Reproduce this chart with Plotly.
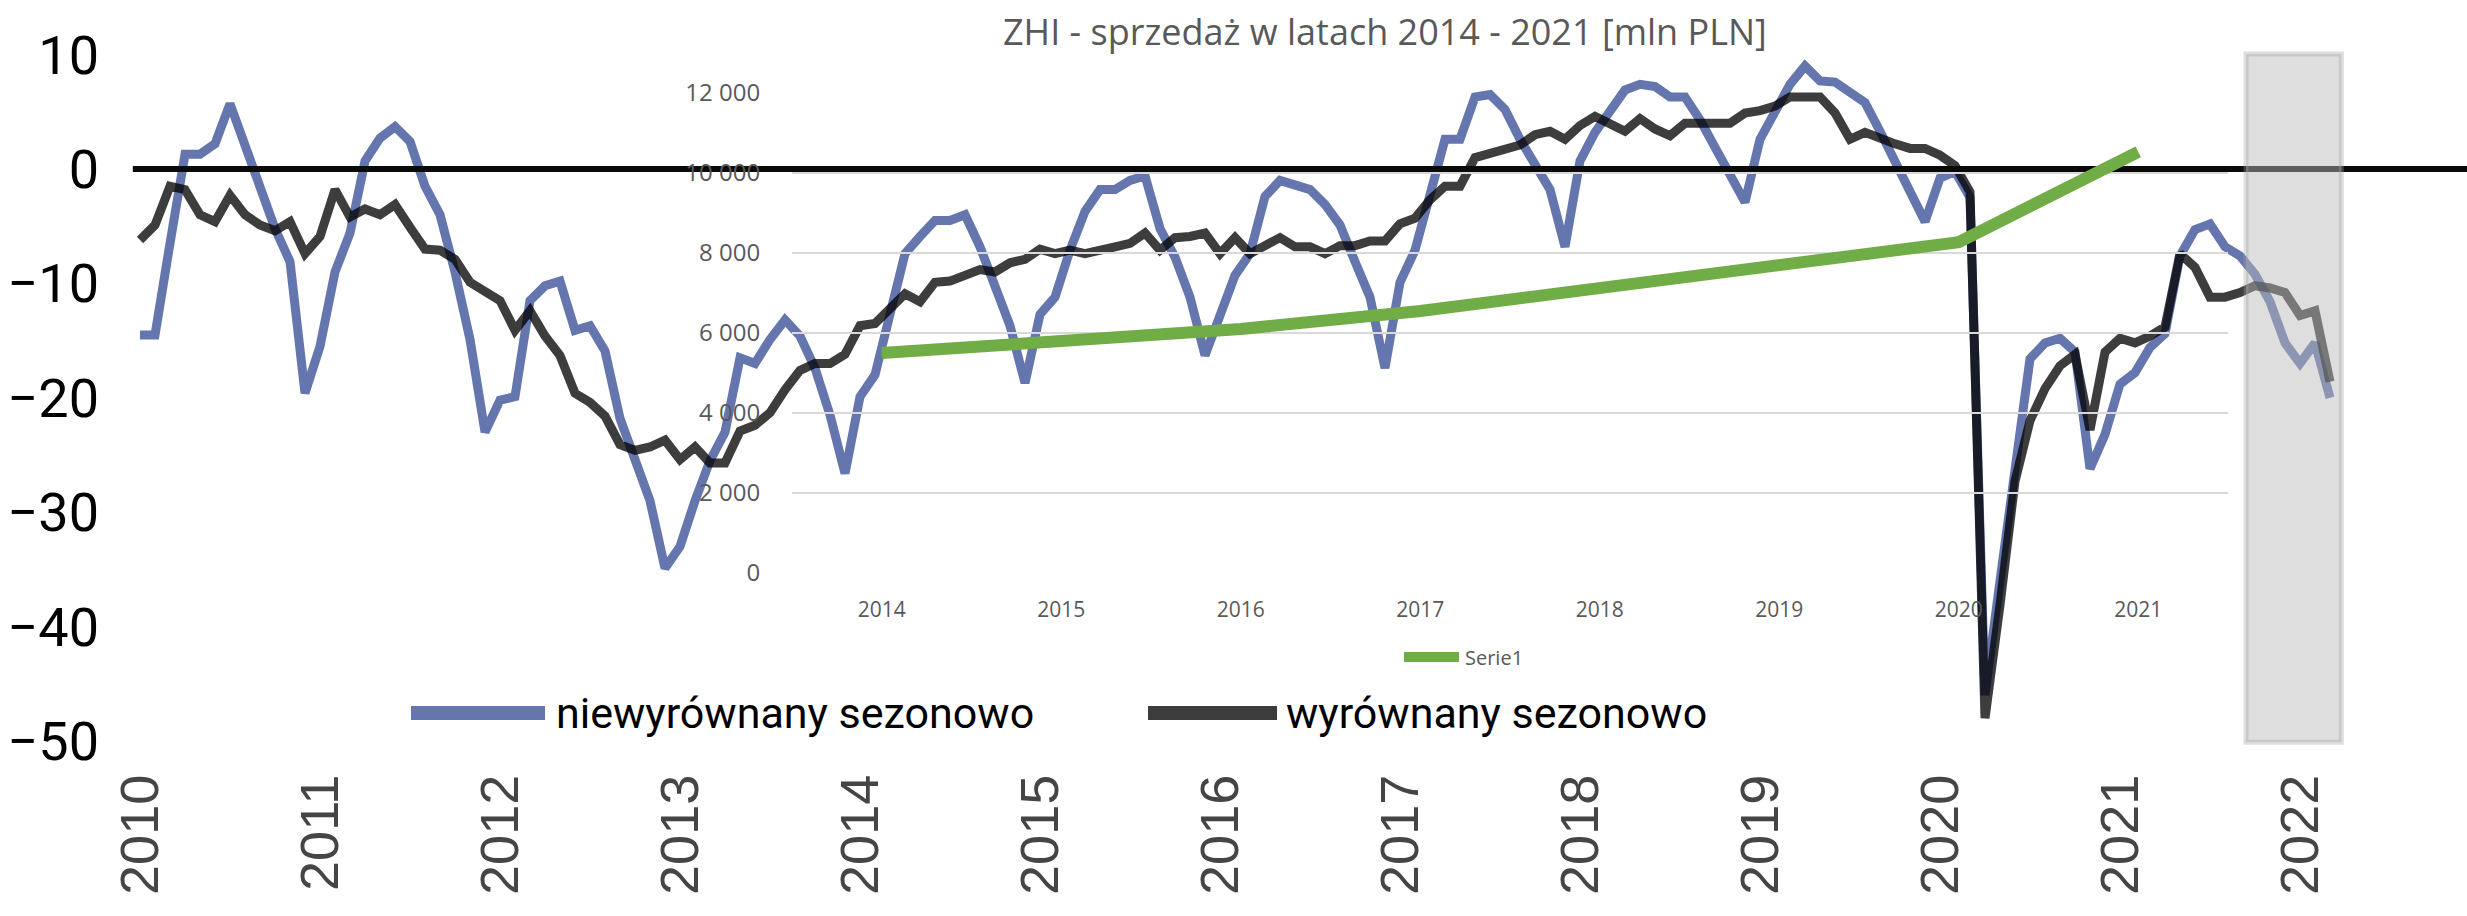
import plotly.graph_objects as go

# ---------------- data ----------------
START_YEAR = 2010
YEARS = list(range(2010, 2023))
YEAR_LABELS = [str(y) for y in YEARS]

BLUE_UNADJ = [
    -14.5, -14.5, -6.5, 1.3, 1.3, 2.2, 5.7, 1.9, -1.8, -5.2, -8.1, -19.6,
    -15.5, -9.0, -5.6, 0.7, 2.7, 3.7, 2.4, -1.5, -4.0, -9.0, -14.9, -23.0,
    -20.2, -19.9, -11.5, -10.2, -9.8, -14.1, -13.7, -15.9, -21.8, -25.2, -29.0, -34.9,
    -33.0, -29.0, -25.5, -23.0, -16.5, -17.0, -14.9, -13.2, -14.6, -17.4, -21.5, -26.6,
    -19.9, -18.0, -12.7, -7.4, -5.9, -4.5, -4.5, -4.0, -6.8, -10.2, -13.7, -18.7,
    -12.7, -11.2, -7.1, -3.7, -1.8, -1.8, -1.0, -0.6, -5.2, -7.7, -11.2, -16.3,
    -12.7, -9.3, -7.4, -2.4, -1.0, -1.3, -1.8, -3.1, -4.9, -8.1, -11.2, -17.4,
    -9.9, -7.1, -2.4, 2.6, 2.6, 6.3, 6.5, 5.2, 2.6, 0.4, -1.8, -6.8,
    0.7, 3.2, 5.1, 6.9, 7.4, 7.2, 6.3, 6.3, 4.3, 1.9, -0.4, -2.9,
    2.6, 4.9, 7.4, 9.0, 7.7, 7.6, 6.6, 5.8, 3.3, 0.7, -1.8, -4.6,
    -0.8, -0.2, -2.5, -46.0, -36.0, -26.0, -16.6, -15.2, -14.8, -16.0, -26.2, -23.2,
    -18.8, -17.8, -15.6, -14.4, -7.6, -5.3, -4.8, -6.8, -7.6, -9.2, -11.6, -15.2,
    -17.0, -15.2, -20.0,
]

BLACK_SA = [
    -6.2, -4.9, -1.5, -1.8, -4.0, -4.6, -2.3, -4.0, -4.9, -5.4, -4.6, -7.4,
    -5.9, -1.8, -4.2, -3.5, -4.0, -3.1, -5.1, -7.0, -7.1, -7.9, -9.9, -10.7,
    -11.5, -14.1, -12.4, -14.6, -16.3, -19.6, -20.4, -21.6, -24.1, -24.6, -24.3, -23.7,
    -25.4, -24.3, -25.7, -25.7, -22.9, -22.4, -21.3, -19.3, -17.6, -17.0, -17.0, -16.2,
    -13.7, -13.5, -12.3, -10.9, -11.6, -9.9, -9.8, -9.3, -8.8, -9.0, -8.2, -7.9,
    -7.0, -7.4, -7.1, -7.4, -7.0, -6.8, -6.5, -5.6, -7.1, -6.0, -5.9, -5.6,
    -7.4, -6.0, -7.4, -6.7, -6.0, -6.8, -6.8, -7.4, -6.7, -6.7, -6.3, -6.3,
    -4.8, -4.3, -2.7, -1.5, -1.5, 1.0, 1.4, 1.9, 2.1, 3.0, 3.3, 2.6,
    3.8, 4.6, 4.0, 3.3, 4.4, 3.5, 2.9, 4.0, 4.0, 4.0, 4.0, 4.9,
    5.1, 5.5, 6.3, 6.3, 6.3, 4.9, 2.6, 3.2, 2.6, 2.2, 1.8, 1.8,
    1.2, 0.3, -2.0, -48.0, -38.1, -27.3, -22.0, -19.2, -17.2, -16.2, -22.8, -16.0,
    -14.8, -15.2, -14.6, -13.8, -7.4, -8.6, -11.2, -11.2, -10.8, -10.2, -10.4, -10.8,
    -12.8, -12.4, -18.6,
]

OUTER_Y_TICKS = [10, 0, -10, -20, -30, -40, -50]

INSET_YEARS = ["2014", "2015", "2016", "2017", "2018", "2019", "2020", "2021"]
SERIE1 = [5500, 5820, 6100, 6550, 7100, 7700, 8270, 10530]
INSET_Y_TICKS = [0, 2000, 4000, 6000, 8000, 10000, 12000]
INSET_Y_LABELS = ["0", "2 000", "4 000", "6 000", "8 000", "10 000", "12 000"]

HIGHLIGHT_X = [2021.70, 2022.23]
HIGHLIGHT_Y = [-50.1, 10.05]

TITLE = "ZHI - sprzedaż w latach 2014 - 2021 [mln PLN]"
LEGEND_LABELS = ["niewyrównany sezonowo", "wyrównany sezonowo"]
INSET_LEGEND = "Serie1"

# ---------------- geometry / style ----------------
W, H = 2467, 916
L, R, T, B = 100, 0, 40, 153
PW, PH = W - L - R, H - T - B

def pxx(px):
    return (px - L) / PW

def pxy(py):
    return (H - B - py) / PH

PX_PER_YEAR = 180.0
X0_PX = 140.0            # pixel of first month
ZERO_PX, PX_PER_UNIT = 169.0, 11.44
x_range = [START_YEAR - (X0_PX - L) / PX_PER_YEAR, START_YEAR + (W - R - X0_PX) / PX_PER_YEAR]
y_range = [-(H - B - ZERO_PX) / PX_PER_UNIT, (ZERO_PX - T) / PX_PER_UNIT]

BLUE = "#6476ad"
BLACKS = "rgba(0,0,0,0.76)"
GREEN = "#70ad47"
GREY_TXT = "#595959"
NARROW = "Liberation Sans Narrow, Arial Narrow, Roboto, sans-serif"
OPEN = "Open Sans, Noto Sans, sans-serif"

months = [START_YEAR + i / 12 for i in range(len(BLUE_UNADJ))]

fig = go.Figure()
fig.add_trace(go.Scatter(x=months, y=BLUE_UNADJ, mode="lines",
                         line=dict(color=BLUE, width=9), name=LEGEND_LABELS[0],
                         xaxis="x", yaxis="y"))
fig.add_trace(go.Scatter(x=months, y=BLACK_SA, mode="lines",
                         line=dict(color=BLACKS, width=9), name=LEGEND_LABELS[1],
                         xaxis="x", yaxis="y"))
# zero reference line
fig.add_trace(go.Scatter(x=[months[0] - 0.04, x_range[1]], y=[0, 0], mode="lines",
                         line=dict(color="#0a0a0a", width=6), hoverinfo="skip",
                         xaxis="x", yaxis="y"))
# inset series
fig.add_trace(go.Scatter(x=list(range(len(INSET_YEARS))), y=SERIE1, mode="lines",
                         line=dict(color=GREEN, width=12), name=INSET_LEGEND,
                         xaxis="x2", yaxis="y2"))

ix0, ix1 = pxx(792), pxx(2228)
iy0, iy1 = pxy(573), pxy(93)

fig.update_layout(
    width=W, height=H,
    margin=dict(l=L, r=R, t=T, b=B, pad=0, autoexpand=False),
    paper_bgcolor="white", plot_bgcolor="rgba(0,0,0,0)",
    showlegend=False,
    xaxis=dict(range=x_range, domain=[0, 1], tickmode="array", tickvals=YEARS,
               ticktext=YEAR_LABELS, tickangle=-90, showgrid=False, zeroline=False,
               showline=False, ticks="", automargin=False,
               tickfont=dict(family="Liberation Sans, Arial, sans-serif", size=54, color="#454545")),
    yaxis=dict(range=y_range, domain=[0, 1], tickmode="array", tickvals=OUTER_Y_TICKS,
               showgrid=False, zeroline=False, showline=False, automargin=False,
               ticks="",
               tickfont=dict(family=NARROW, size=54, color="black")),
    xaxis2=dict(range=[-0.5, len(INSET_YEARS) - 0.5], domain=[ix0, ix1], anchor="y2",
                tickmode="array", tickvals=list(range(len(INSET_YEARS))), ticktext=INSET_YEARS,
                showgrid=False, zeroline=False, showline=False, automargin=False,
                ticks="outside", ticklen=18, tickcolor="rgba(0,0,0,0)",
                tickfont=dict(family=OPEN, size=21, color=GREY_TXT)),
    yaxis2=dict(range=[0, 12000], domain=[iy0, iy1], anchor="x2",
                tickmode="array", tickvals=INSET_Y_TICKS, ticktext=INSET_Y_LABELS,
                showgrid=True, gridcolor="#d9d9d9", gridwidth=2, zeroline=False, showline=False,
                automargin=False,
                ticks="outside", ticklen=26, tickcolor="rgba(0,0,0,0)",
                tickfont=dict(family=OPEN, size=24, color=GREY_TXT)),
)

# highlighted period
fig.add_shape(type="rect", xref="x", yref="y", layer="above",
              x0=HIGHLIGHT_X[0], x1=HIGHLIGHT_X[1], y0=HIGHLIGHT_Y[0], y1=HIGHLIGHT_Y[1],
              fillcolor="rgba(185,185,185,0.475)", line=dict(color="rgba(160,160,160,0.35)", width=5))

# custom legend
fig.add_shape(type="line", xref="paper", yref="paper", layer="above",
              x0=pxx(411), x1=pxx(545), y0=pxy(713), y1=pxy(713),
              line=dict(color=BLUE, width=14))
fig.add_shape(type="line", xref="paper", yref="paper", layer="above",
              x0=pxx(1148), x1=pxx(1277), y0=pxy(713), y1=pxy(713),
              line=dict(color="#3c3c3c", width=14))
fig.add_shape(type="line", xref="paper", yref="paper", layer="above",
              x0=pxx(1404), x1=pxx(1459), y0=pxy(657), y1=pxy(657),
              line=dict(color=GREEN, width=10))

fig.add_annotation(xref="paper", yref="paper", x=pxx(554), y=pxy(713), text=LEGEND_LABELS[0],
                   showarrow=False, xanchor="left", yanchor="middle",
                   font=dict(family=NARROW, size=43, color="black"))
fig.add_annotation(xref="paper", yref="paper", x=pxx(1284), y=pxy(713), text=LEGEND_LABELS[1],
                   showarrow=False, xanchor="left", yanchor="middle",
                   font=dict(family=NARROW, size=43, color="black"))
fig.add_annotation(xref="paper", yref="paper", x=pxx(1463), y=pxy(657), text=INSET_LEGEND,
                   showarrow=False, xanchor="left", yanchor="middle",
                   font=dict(family=OPEN, size=20, color=GREY_TXT))
fig.add_annotation(xref="paper", yref="paper", x=pxx(1385), y=pxy(31), text=TITLE,
                   showarrow=False, xanchor="center", yanchor="middle",
                   font=dict(family=OPEN, size=36, color=GREY_TXT))

fig.write_html("out.html", config={"displayModeBar": False},
               post_script="document.body.style.margin='0';")
